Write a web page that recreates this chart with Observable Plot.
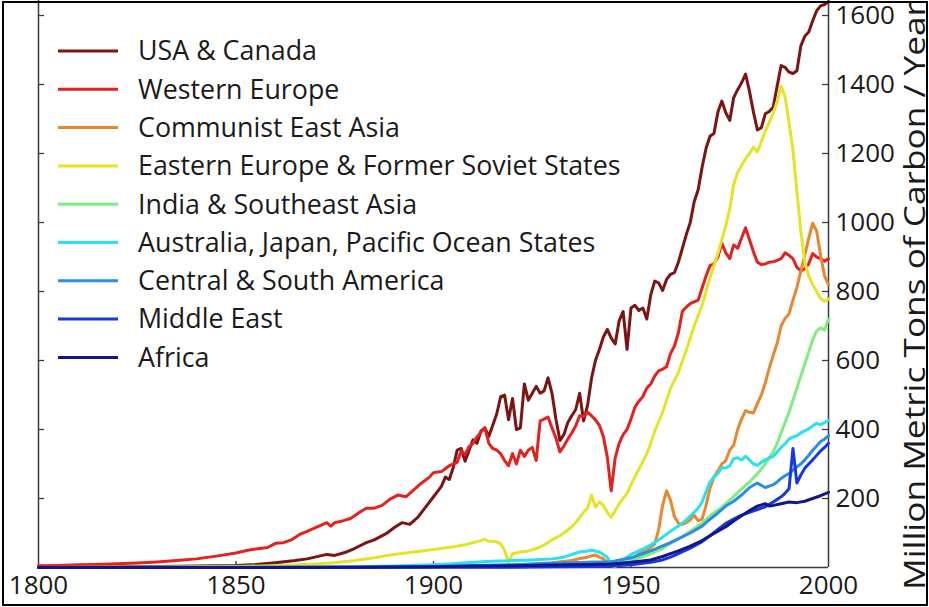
<!DOCTYPE html>
<html>
<head>
<meta charset="utf-8">
<script src="https://cdn.jsdelivr.net/npm/d3@7"></script>
<script src="https://cdn.jsdelivr.net/npm/@observablehq/plot@0.6"></script>
<style>
  html, body { margin: 0; padding: 0; background: #fff; }
  #wrap { position: relative; width: 929px; height: 607px; overflow: hidden; background: #fff; }
  #wrap svg { position: absolute; left: 0; top: 0; }
  #border { position: absolute; left: 2px; top: 1px; width: 926px; height: 605px; box-sizing: border-box; border: 2px solid #000; pointer-events: none; }
</style>
</head>
<body>
<div id="wrap"><div id="border"></div></div>
<script>
// ---- Data (million metric tons of carbon per year) ----
const seriesNames = ["USA & Canada", "Western Europe", "Communist East Asia", "Eastern Europe & Former Soviet States", "India & Southeast Asia", "Australia, Japan, Pacific Ocean States", "Central & South America", "Middle East", "Africa"];
const seriesColors = ["#7d1414", "#e6201e", "#e8872c", "#e4e426", "#80ec80", "#26e2ee", "#2b8de4", "#1538df", "#13168a"];

const usaCanada = [[1800,1],[1810,1.5],[1820,2],[1830,3],[1840,4],[1845,5],[1850,6],[1855,9],[1860,14],[1865,20],[1868,25],[1870,30],[1873,38],[1875,35],[1878,45],[1880,55],[1883,72],[1885,80],[1888,98],[1890,115],[1892,130],[1894,125],[1896,145],[1898,175],[1900,205],[1902,235],[1903,262],[1904,255],[1905,290],[1906,340],[1907,345],[1908,308],[1910,370],[1911,360],[1912,395],[1913,405],[1914,380],[1916,445],[1917,495],[1918,500],[1919,428],[1920,490],[1921,400],[1922,405],[1923,532],[1924,485],[1925,505],[1926,525],[1927,505],[1928,512],[1929,550],[1930,505],[1931,430],[1932,368],[1933,385],[1934,420],[1935,440],[1936,458],[1937,505],[1938,425],[1939,470],[1940,548],[1941,600],[1942,632],[1943,668],[1944,690],[1945,665],[1946,648],[1947,715],[1948,742],[1949,632],[1950,752],[1951,760],[1952,745],[1953,752],[1954,720],[1955,790],[1956,830],[1957,825],[1958,803],[1959,835],[1960,850],[1961,855],[1962,885],[1963,925],[1964,965],[1965,1000],[1966,1060],[1967,1095],[1968,1160],[1969,1215],[1970,1250],[1971,1258],[1972,1320],[1973,1352],[1974,1318],[1975,1296],[1976,1362],[1977,1385],[1978,1405],[1979,1430],[1980,1380],[1981,1320],[1982,1268],[1983,1275],[1984,1315],[1985,1322],[1986,1335],[1987,1395],[1988,1455],[1989,1450],[1990,1436],[1991,1432],[1992,1440],[1993,1512],[1994,1540],[1995,1552],[1996,1585],[1997,1614],[1998,1628],[1999,1632],[2000,1640]];

const westernEurope = [[1800,5],[1805,6],[1810,8],[1815,9],[1820,11],[1825,13],[1830,16],[1835,20],[1840,25],[1845,33],[1850,42],[1853,50],[1856,55],[1858,58],[1860,70],[1862,72],[1864,80],[1866,95],[1868,105],[1870,115],[1872,125],[1873,130],[1874,120],[1875,130],[1877,135],[1879,142],[1880,150],[1882,165],[1883,172],[1885,172],[1887,180],[1889,198],[1891,210],[1893,205],[1895,225],[1897,245],[1899,262],[1900,275],[1902,278],[1904,295],[1906,305],[1907,338],[1908,328],[1909,350],[1910,360],[1911,378],[1912,392],[1913,405],[1914,360],[1915,345],[1916,340],[1917,330],[1918,310],[1919,295],[1920,330],[1921,300],[1922,340],[1923,322],[1924,340],[1925,348],[1926,310],[1927,425],[1928,430],[1929,436],[1930,405],[1931,375],[1932,335],[1933,352],[1934,372],[1935,390],[1936,410],[1937,440],[1938,438],[1939,450],[1940,440],[1941,428],[1942,412],[1943,380],[1944,320],[1945,222],[1946,318],[1947,360],[1948,385],[1949,400],[1950,430],[1951,465],[1952,482],[1953,495],[1954,520],[1955,532],[1956,555],[1957,570],[1958,575],[1959,582],[1960,620],[1961,642],[1962,680],[1963,742],[1964,755],[1965,765],[1966,770],[1967,775],[1968,810],[1969,845],[1970,875],[1971,880],[1972,900],[1973,940],[1974,912],[1975,895],[1976,935],[1977,925],[1978,955],[1979,985],[1980,950],[1981,915],[1982,885],[1983,878],[1984,880],[1985,885],[1986,886],[1987,890],[1988,895],[1989,912],[1990,905],[1991,895],[1992,870],[1993,860],[1994,866],[1995,880],[1996,910],[1997,900],[1998,895],[1999,888],[2000,895]];

const communistEastAsia = [[1800,0],[1880,0.5],[1900,2],[1910,4],[1920,7],[1925,10],[1930,14],[1935,20],[1937,26],[1939,30],[1940,34],[1941,36],[1942,30],[1943,25],[1944,15],[1945,5],[1946,3],[1947,8],[1948,12],[1949,16],[1950,22],[1951,30],[1952,40],[1953,45],[1954,50],[1955,58],[1956,68],[1957,110],[1958,180],[1959,222],[1960,195],[1961,148],[1962,128],[1963,125],[1964,130],[1965,138],[1966,152],[1967,135],[1968,140],[1969,180],[1970,230],[1971,262],[1972,280],[1973,300],[1974,310],[1975,340],[1976,355],[1977,400],[1978,430],[1979,455],[1980,450],[1981,448],[1982,475],[1983,500],[1984,535],[1985,578],[1986,615],[1987,650],[1988,700],[1989,722],[1990,735],[1991,775],[1992,812],[1993,860],[1994,905],[1995,955],[1996,998],[1997,975],[1998,905],[1999,845],[2000,820]];

const easternEurope = [[1800,0],[1820,0.5],[1830,1],[1840,2],[1850,3],[1860,5],[1865,7],[1870,10],[1875,14],[1880,20],[1885,28],[1890,38],[1895,45],[1900,52],[1905,60],[1908,66],[1910,72],[1912,78],[1913,82],[1914,76],[1916,75],[1917,68],[1918,50],[1919,15],[1920,40],[1922,45],[1924,48],[1926,55],[1928,65],[1930,80],[1932,92],[1933,100],[1935,118],[1936,130],[1937,145],[1938,160],[1939,172],[1940,210],[1941,175],[1942,190],[1943,180],[1944,160],[1945,145],[1946,165],[1947,185],[1948,200],[1949,215],[1950,240],[1952,285],[1954,330],[1955,360],[1956,395],[1958,450],[1960,520],[1962,565],[1964,630],[1965,665],[1966,700],[1968,760],[1970,840],[1972,910],[1974,990],[1975,1040],[1976,1110],[1977,1145],[1978,1165],[1979,1185],[1980,1200],[1981,1218],[1982,1205],[1983,1235],[1984,1265],[1985,1290],[1986,1316],[1987,1350],[1988,1395],[1989,1365],[1990,1290],[1991,1210],[1992,1090],[1993,975],[1994,885],[1995,845],[1996,820],[1997,800],[1998,780],[1999,772],[2000,778]];

const indiaSEAsia = [[1800,0],[1850,0.5],[1880,1],[1900,3],[1910,5],[1920,7],[1930,10],[1938,14],[1940,16],[1943,14],[1945,8],[1947,12],[1950,20],[1953,32],[1955,40],[1958,55],[1960,70],[1963,90],[1965,105],[1968,128],[1970,150],[1973,175],[1975,195],[1978,228],[1980,248],[1982,272],[1984,300],[1986,335],[1987,360],[1988,390],[1989,420],[1990,450],[1991,485],[1992,520],[1993,555],[1994,590],[1995,625],[1996,660],[1997,685],[1998,695],[1999,688],[2000,720]];

const australiaJapanPacific = [[1800,0],[1860,0.5],[1870,1],[1880,2],[1890,4],[1900,8],[1905,11],[1910,15],[1915,18],[1920,20],[1925,22],[1930,25],[1933,30],[1935,38],[1937,45],[1939,48],[1940,50],[1942,45],[1944,30],[1945,10],[1946,3],[1947,12],[1948,22],[1950,38],[1952,48],[1955,65],[1958,88],[1960,105],[1962,120],[1964,138],[1966,160],[1967,172],[1968,190],[1969,220],[1970,248],[1971,262],[1972,272],[1973,290],[1974,288],[1975,295],[1976,315],[1977,318],[1978,312],[1979,322],[1980,312],[1981,300],[1982,296],[1983,305],[1984,312],[1985,318],[1986,322],[1987,335],[1988,348],[1989,358],[1990,372],[1991,378],[1992,382],[1993,390],[1994,396],[1995,402],[1996,410],[1997,418],[1998,414],[1999,420],[2000,426]];

const centralSouthAmerica = [[1800,0],[1870,0.5],[1880,1],[1890,2],[1900,3],[1910,6],[1920,8],[1930,12],[1940,15],[1945,17],[1950,28],[1955,48],[1960,72],[1965,100],[1968,120],[1970,140],[1972,158],[1974,178],[1976,192],[1978,210],[1980,232],[1982,245],[1983,238],[1984,232],[1985,236],[1986,240],[1987,248],[1988,258],[1989,266],[1990,272],[1991,282],[1992,292],[1993,300],[1994,312],[1995,325],[1996,340],[1997,352],[1998,365],[1999,372],[2000,382]];

const middleEast = [[1800,0],[1900,0.5],[1920,1],[1930,2],[1940,3],[1945,4],[1950,8],[1955,15],[1958,22],[1960,30],[1962,40],[1965,56],[1968,75],[1970,92],[1972,110],[1974,128],[1976,140],[1978,152],[1980,160],[1982,168],[1984,176],[1986,190],[1988,205],[1989,215],[1990,228],[1991,345],[1992,245],[1993,268],[1994,288],[1995,300],[1996,312],[1997,325],[1998,338],[1999,348],[2000,360]];

const africa = [[1800,0],[1880,0.5],[1900,2],[1910,4],[1920,5],[1930,7],[1940,9],[1945,10],[1950,15],[1955,22],[1958,32],[1960,40],[1962,48],[1965,62],[1968,78],[1970,92],[1972,105],[1974,118],[1976,135],[1978,150],[1980,165],[1982,178],[1984,185],[1985,178],[1986,180],[1988,185],[1990,190],[1992,188],[1994,192],[1996,200],[1998,208],[2000,218]];

const seriesData = [usaCanada, westernEurope, communistEastAsia, easternEurope, indiaSEAsia, australiaJapanPacific, centralSouthAmerica, middleEast, africa];

const xTickLabels = [1800, 1850, 1900, 1950, 2000];
const xInnerTicks = [1850, 1900, 1950];
const yTicks = [200, 400, 600, 800, 1000, 1200, 1400, 1600];
const yLabel = "Million Metric Tons of Carbon / Year";

// ---- Layout ----
const W = 929, H = 607;
const mL = 38, mR = 101, mT = 0, mB = 40;
const plotW = W - mL - mR, plotH = H - mT - mB;
const tickLen = 6;
const font = "'Open Sans', Lato, sans-serif";

const rows = seriesData.flatMap((d, i) => d.map(([year, value]) => ({year, value, region: seriesNames[i]})));

const lineMarks = seriesNames.map(name =>
  Plot.line(rows.filter(r => r.region === name), {x: "year", y: "value", stroke: "region", strokeWidth: 3, strokeLinejoin: "round"})
);

const chart = Plot.plot({
  width: W, height: H,
  marginLeft: mL, marginRight: mR, marginTop: mT, marginBottom: mB,
  style: {fontFamily: font, background: "transparent", color: "#1a1a1a"},
  x: {domain: [1800, 2000]},
  y: {domain: [0, 1643.5]},
  color: {domain: seriesNames, range: seriesColors},
  marks: [
    // axis lines (left, right, bottom)
    Plot.ruleX([1800, 2000], {stroke: "#3a3a3a", strokeWidth: 1.5}),
    Plot.ruleY([0], {stroke: "#3a3a3a", strokeWidth: 1.5}),
    // inward ticks
    Plot.ruleY(yTicks, {y: d => d, insetRight: plotW - tickLen, stroke: "#3a3a3a", strokeWidth: 1.3}),
    Plot.ruleY(yTicks, {y: d => d, insetLeft: plotW - tickLen, stroke: "#3a3a3a", strokeWidth: 1.3}),
    Plot.ruleX(xInnerTicks, {x: d => d, insetTop: plotH - tickLen, stroke: "#3a3a3a", strokeWidth: 1.3}),
    ...lineMarks,
    // tick labels
    Plot.axisY({anchor: "right", ticks: yTicks, tickSize: 0, tickPadding: 7, fontSize: 26, label: null, tickFormat: d => String(d)}),
    Plot.axisX({ticks: xTickLabels, tickSize: 0, tickPadding: 8, fontSize: 26, label: null, tickFormat: d => String(d)}),
    // y axis title
    Plot.text([yLabel], {text: d => d, frameAnchor: "right", rotate: -90, dx: 87, dy: 12, fontSize: 29, fill: "#1a1a1a", textAnchor: "middle", lineAnchor: "middle"})
  ]
});
// stretch the rotated axis title along its reading direction, as in the reference
d3.select(chart).selectAll("text").filter(function() { return this.textContent === yLabel; })
  .attr("textLength", 588).attr("lengthAdjust", "spacingAndGlyphs");
document.getElementById("wrap").insertBefore(chart, document.getElementById("border"));

// ---- Legend (overlay inside plot area) ----
const legend = d3.select("#wrap").insert("svg", "#border")
  .attr("width", W).attr("height", H)
  .style("pointer-events", "none");
const rowY0 = 51, rowGap = 38.3;
const g = legend.selectAll("g").data(seriesNames).join("g")
  .attr("transform", (d, i) => `translate(0,${rowY0 + i * rowGap})`);
g.append("line").attr("x1", 58).attr("x2", 118).attr("y1", 0).attr("y2", 0)
  .attr("stroke", (d, i) => seriesColors[i]).attr("stroke-width", 3);
g.append("text").attr("x", 138).attr("y", 0).attr("dy", "0.35em")
  .attr("font-family", font).attr("font-size", 26.8).attr("fill", "#1a1a1a")
  .text(d => d);
</script>
</body>
</html>
